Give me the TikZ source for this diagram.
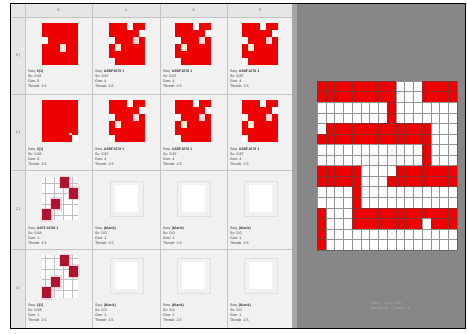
\documentclass[tikz,border=0pt]{standalone}
\usepackage{fontspec}
\setmainfont{Liberation Sans}
\definecolor{panel}{HTML}{878787}
\definecolor{cellbg}{HTML}{F1F1F1}
\definecolor{headbg}{HTML}{E6E6E6}
\definecolor{rulec}{HTML}{C4C4C4}
\definecolor{brightred}{HTML}{EE0000}
\definecolor{creamc}{HTML}{FFEBD2}
\definecolor{darkred}{HTML}{B3122E}
\definecolor{pinkc}{HTML}{F6D6DC}
\tikzset{
  rulel/.style={draw=rulec,line width=0.6pt},
  celltxt/.style={anchor=north west,inner sep=0pt,font=\fontsize{3.6}{4.9}\selectfont,align=left,text=black!80},
  headtxt/.style={inner sep=0pt,font=\fontsize{4}{5}\selectfont,text=black!60},
  bigline/.style={draw=black!70,line width=0.3pt,draw opacity=0.6},
  whitebox/.style={fill=white,draw=black!15,line width=0.4pt}
}
\newcommand\thumbA[2]{%
  \fill[brightred] (#1,#2) rectangle ++(36,42);
  \fill[white] ({#1},{#2+14}) rectangle ++(6,7);
  \fill[creamc] ({#1+18},{#2+21}) rectangle ++(6,8);
}
\newcommand\thumbB[2]{%
  \fill[brightred] (#1,#2) rectangle ++(36,42);
  \foreach \c/\r in {3/0,5/1,0/2,0/5}{\fill[white] ({#1+\c*6},{#2+\r*7}) rectangle ++(6,7);}
  \fill[creamc] ({#1+6},{#2+21}) rectangle ++(6,7);
  \fill[white!85!red] ({#1+24},{#2+14}) rectangle ++(6,7);
}
\newcommand\thumbC[2]{%
  \fill[brightred] (#1,#2) rectangle ++(36,42);
  \fill[white] ({#1+30},{#2+35}) rectangle ++(6,7);
  \fill[creamc] ({#1+27},{#2+33}) rectangle ++(3,2);
}
\newcommand\thumbD[2]{%
  \fill[white] (#1,#2) rectangle ++(36,43);
  \foreach \c/\r in {2/0,3/1,1/2,0/3}{\fill[pinkc] ({#1+\c*9-1.5},{#2+\r*10.75-1.5}) rectangle ++(12,13.75);}
  \draw[black!25,line width=0.3pt,xstep=9pt,ystep=10.75pt] (#1,#2) grid ++(36,43);
  \foreach \c/\r in {2/0,3/1,1/2,0/3}{\fill[darkred] ({#1+\c*9},{#2+\r*10.75}) rectangle ++(9,10.75);}
}
\newcommand\thumbE[2]{%
  \draw[black!12,line width=0.5pt] ({#1-5},{#2-4}) rectangle ++(33,35);
  \fill[white] (#1,#2) rectangle ++(23,27);
}
\begin{document}
\begin{tikzpicture}[x=1pt,y=-1pt]
\useasboundingbox (0,0) rectangle (467,333);
\fill[white] (0,0) rectangle (467,333);
\fill[cellbg] (11,4) rectangle (297,328);
\fill[headbg] (11,4) rectangle (297,17);
\fill[headbg] (11,17) rectangle (25,328);
\foreach \x in {25,92,160,227,293}{\draw[rulel] (\x,4) -- (\x,328);}
\foreach \y in {17,94,170,249}{\draw[rulel] (11,\y) -- (293,\y);}
\fill[black!35] (292,4) rectangle (297,328);
\node[headtxt] (h0) at (58.5,10.5) {0};
\node[headtxt] (h1) at (126,10.5) {1};
\node[headtxt] (h2) at (193.5,10.5) {2};
\node[headtxt] (h3) at (260,10.5) {3};
\node[headtxt] (r0) at (18,55) {0 |};
\node[headtxt] (r1) at (18,132) {1 |};
\node[headtxt] (r2) at (18,209) {2 |};
\node[headtxt] (r3) at (18,288) {3 |};
\thumbA{42}{23}
\thumbB{109}{23}
\thumbB{175}{23}
\thumbB{242}{23}
\thumbC{42}{100}
\thumbB{109}{100}
\thumbB{175}{100}
\thumbB{242}{100}
\thumbD{42}{177}
\thumbE{115}{185}
\thumbE{182}{185}
\thumbE{249}{185}
\thumbD{42}{255}
\thumbE{115}{262}
\thumbE{182}{262}
\thumbE{249}{262}
\node[celltxt] (t11) at (28,70) {Seq: \textbf{2(1)}\\Sc: 0.91\\Gen: 0\\Thresh: 2.5};
\node[celltxt] (t12) at (95,70) {Seq: \textbf{A6BF1078 1}\\Sc: 0.87\\Gen: 4\\Thresh: 2.5};
\node[celltxt] (t13) at (163,70) {Seq: \textbf{A6BF1078 1}\\Sc: 0.87\\Gen: 4\\Thresh: 2.5};
\node[celltxt] (t14) at (230,70) {Seq: \textbf{A6BF1078 1}\\Sc: 0.87\\Gen: 4\\Thresh: 2.5};
\node[celltxt] (t21) at (28,148) {Seq: \textbf{2(1)}\\Sc: 0.93\\Gen: 0\\Thresh: 2.5};
\node[celltxt] (t22) at (95,148) {Seq: \textbf{A6BF1078 1}\\Sc: 0.87\\Gen: 4\\Thresh: 2.5};
\node[celltxt] (t23) at (163,148) {Seq: \textbf{A6BF1078 1}\\Sc: 0.87\\Gen: 4\\Thresh: 2.5};
\node[celltxt] (t24) at (230,148) {Seq: \textbf{A6BF1078 1}\\Sc: 0.87\\Gen: 4\\Thresh: 2.5};
\node[celltxt] (t31) at (28,227) {Seq: \textbf{A6F2 0C08 1}\\Sc: 0.58\\Gen: 1\\Thresh: 2.5};
\node[celltxt] (t32) at (95,227) {Seq: \textbf{(blank)}\\Sc: 0.0\\Gen: 1\\Thresh: 2.5};
\node[celltxt] (t33) at (163,227) {Seq: \textbf{(blank)}\\Sc: 0.0\\Gen: 1\\Thresh: 2.5};
\node[celltxt] (t34) at (230,227) {Seq: \textbf{(blank)}\\Sc: 0.0\\Gen: 1\\Thresh: 2.5};
\node[celltxt] (t41) at (28,304) {Seq: \textbf{2(1)}\\Sc: 0.58\\Gen: 1\\Thresh: 2.5};
\node[celltxt] (t42) at (95,304) {Seq: \textbf{(blank)}\\Sc: 0.0\\Gen: 1\\Thresh: 2.5};
\node[celltxt] (t43) at (163,304) {Seq: \textbf{(blank)}\\Sc: 0.0\\Gen: 1\\Thresh: 2.5};
\node[celltxt] (t44) at (230,304) {Seq: \textbf{(blank)}\\Sc: 0.0\\Gen: 1\\Thresh: 2.5};
\fill[panel] (297,4) rectangle (465,328);
\begin{scope}[shift={(317,81)},x=8.75pt,y=-10.5625pt]
  \fill[white] (0,0) rectangle (16,16);
  \fill[brightred] (0,0) rectangle (9,2);
  \fill[brightred] (12,0) rectangle (16,2);
  \fill[brightred] (8,2) rectangle (9,4);
  \fill[brightred] (1,4) rectangle (13,6);
  \fill[brightred] (0,5) rectangle (1,6);
  \fill[brightred] (12,6) rectangle (13,8);
  \fill[brightred] (0,8) rectangle (5,10);
  \fill[brightred] (9,8) rectangle (16,9);
  \fill[brightred] (8,9) rectangle (16,10);
  \fill[brightred] (4,10) rectangle (5,12);
  \fill[brightred] (4,12) rectangle (16,14);
  \fill[white] (12,13) rectangle (13,14);
  \fill[brightred] (0,12) rectangle (1,16);
  \draw[bigline,xstep=8.75pt,ystep=10.5625pt] (0,0) grid (16,16);
\end{scope}
\node[anchor=north west,inner sep=0pt,font=\fontsize{3.6}{4.8}\selectfont,align=left,text=black!30] (foot) at (370,302) {Gen 4 \quad Best: 0.91\\Size 16x16 \quad Thresh 2.5};
\draw[black,line width=1.6pt] (10.5,3.5) rectangle (465.5,328.5);
\end{tikzpicture}
\end{document}
